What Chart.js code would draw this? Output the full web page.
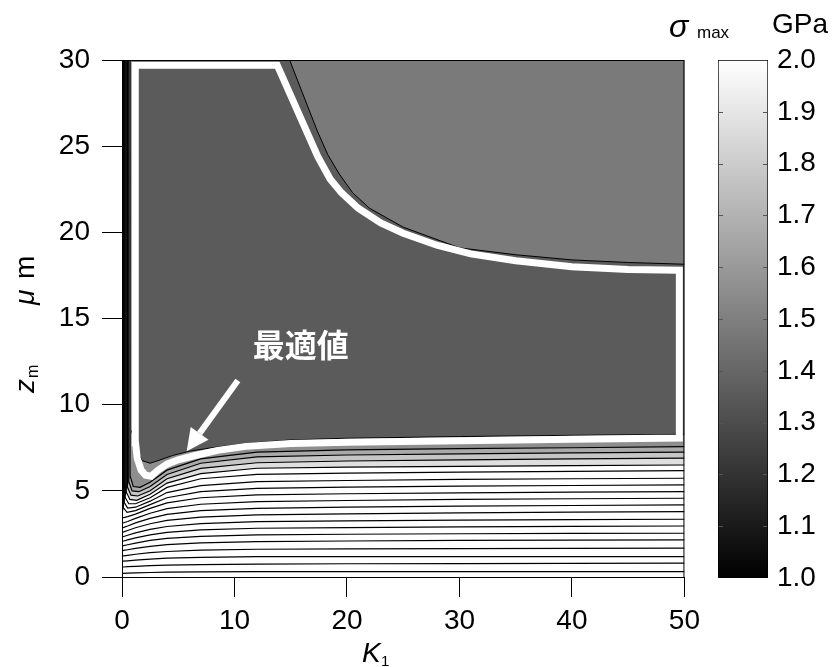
<!DOCTYPE html>
<html>
<head>
<meta charset="utf-8">
<script src="https://cdn.jsdelivr.net/npm/chart.js@4"></script>
<style>
  html, body { margin: 0; padding: 0; background: #fff; }
  #wrap { position: relative; width: 836px; height: 667px; }
  #main { position: absolute; left: 0; top: 0; }
  #bar { position: absolute; left: 640px; top: 0; }
</style>
</head>
<body>
<div id="wrap">
  <canvas id="main" width="707" height="667"></canvas>
  <canvas id="bar" width="196" height="667"></canvas>
</div>
<script>
// axis ticks
const xTicks = [0, 10, 20, 30, 40, 50];
const zTicks = [0, 5, 10, 15, 20, 25, 30];
const sigmaTicks = [1.0, 1.1, 1.2, 1.3, 1.4, 1.5, 1.6, 1.7, 1.8, 1.9, 2.0];
const sigmaRange = [1.0, 2.0];

// sigma_max contour lines, points are [K1, z_m]
const c01 = [[50,7.56],[40,7.5],[30,7.45],[20,7.38],[12,7.25],[7,6.85],[4,6.2],[2.5,5.5],[1.6,5.2],[1.0,5.25],[0.75,5.8],[0.72,7],[0.72,30]];
const c02 = [[50,7.25],[40,7.2],[30,7.15],[20,7.08],[12,6.97],[7,6.6],[4,5.95],[2.5,5.25],[1.5,4.95],[0.9,5.0],[0.62,5.5],[0.6,6.5],[0.6,30]];
const c03 = [[50,6.9],[40,6.85],[30,6.8],[20,6.73],[12,6.63],[7,6.3],[4,5.7],[2.5,5.0],[1.4,4.7],[0.8,4.75],[0.5,5.2],[0.48,6],[0.48,30]];
const c04 = [[50,6.5],[40,6.46],[30,6.42],[20,6.38],[12,6.31],[7,6.0],[4,5.45],[2.5,4.8],[1.3,4.45],[0.7,4.5],[0.4,4.9],[0.37,5.6],[0.37,30]];
const c05 = [[50,6.17],[40,6.13],[30,6.08],[20,6.03],[12,5.96],[7,5.7],[4,5.2],[2.5,4.6],[1.2,4.25],[0.6,4.25],[0.3,4.6],[0.27,5.3],[0.27,30]];
const c06 = [[50,5.73],[40,5.7],[30,5.66],[20,5.6],[12,5.53],[7,5.3],[4,4.9],[2.5,4.4],[1.2,4.05],[0.5,4.0],[0.22,4.3],[0.18,5],[0.18,30]];
const c07 = [[50,5.34],[40,5.31],[30,5.27],[20,5.21],[12,5.14],[7,4.95],[4,4.6],[2.5,4.2],[1.2,3.85],[0.45,3.75],[0.15,4.0],[0.1,4.6],[0.1,30]];
const c08 = [[50,4.95],[40,4.92],[30,4.88],[20,4.83],[12,4.76],[7,4.6],[4,4.3],[2.5,3.98],[1.2,3.65],[0.5,3.5],[0.15,3.45],[0,3.45]];
const c09 = [[50,4.57],[40,4.54],[30,4.5],[20,4.44],[12,4.37],[7,4.22],[4,3.97],[2.5,3.7],[1.2,3.4],[0.5,3.22],[0.15,3.15],[0,3.12]];
const c10 = [[50,4.18],[40,4.15],[30,4.11],[20,4.05],[12,3.98],[7,3.85],[4,3.63],[2.5,3.4],[1.2,3.14],[0.5,2.96],[0.15,2.88],[0,2.85]];
const c11 = [[50,3.79],[40,3.76],[30,3.72],[20,3.66],[12,3.6],[7,3.48],[4,3.29],[2.5,3.09],[1.2,2.86],[0.5,2.7],[0.15,2.62],[0,2.59]];
const c12 = [[50,3.35],[40,3.33],[30,3.3],[20,3.26],[12,3.21],[7,3.1],[4,2.93],[2.5,2.76],[1.2,2.56],[0.5,2.42],[0.15,2.35],[0,2.32]];
const c13 = [[50,2.96],[40,2.94],[30,2.91],[20,2.87],[12,2.83],[7,2.73],[4,2.59],[2.5,2.44],[1.2,2.27],[0.5,2.15],[0.15,2.09],[0,2.06]];
const c14 = [[50,2.54],[40,2.53],[30,2.51],[20,2.48],[12,2.44],[7,2.36],[4,2.24],[2.5,2.12],[1.2,1.97],[0.5,1.87],[0.15,1.82],[0,1.8]];
const c15 = [[50,2.15],[40,2.14],[30,2.12],[20,2.09],[12,2.05],[7,1.98],[4,1.88],[2.5,1.78],[1.2,1.66],[0.5,1.58],[0.15,1.54],[0,1.52]];
const c16 = [[50,1.67],[40,1.66],[30,1.65],[20,1.63],[12,1.61],[7,1.56],[4,1.48],[2.5,1.41],[1.2,1.32],[0.5,1.26],[0.15,1.23],[0,1.22]];
const c17 = [[50,1.18],[40,1.18],[30,1.18],[20,1.18],[12,1.18],[7,1.14],[4,1.09],[2.5,1.04],[1.2,0.98],[0.5,0.94],[0.15,0.92],[0,0.91]];
const c18 = [[50,0.8],[40,0.79],[30,0.78],[20,0.77],[12,0.75],[7,0.72],[4,0.69],[2.5,0.66],[1.2,0.62],[0.5,0.6],[0.15,0.58],[0,0.58]];
const c19 = [[50,0.31],[40,0.31],[30,0.31],[20,0.31],[12,0.31],[7,0.3],[4,0.28],[2.5,0.26],[1.2,0.24],[0.5,0.22],[0.15,0.21],[0,0.2]];
const contours = [c01, c02, c03, c04, c05, c06, c07, c08, c09, c10, c11, c12, c13, c14, c15, c16, c17, c18, c19];

// lower edge of the dark plateau, and edge of the lighter upper-right plateau
const darkEdge = [[0.85,8.5],[1.3,7.3],[1.8,6.75],[2.5,6.6],[3.2,6.75],[4.5,7.05],[6,7.3],[8,7.5],[11,7.75],[15,7.95],[20,8.05],[30,8.15],[40,8.22],[50,8.28]];
const upperEdge = [[14.9,30],[17.35,25.9],[18.3,24.5],[19.3,23.4],[20.5,22.3],[22,21.4],[25,20.3],[30,19.1],[35,18.7],[40,18.4],[45,18.25],[50,18.15]];

// narrow strips along K1 ~ 0
const strip1 = [[0,3.45],[0,30],[0.33,30],[0.33,5.5],[0.4,4.9],[0.3,4.6],[0.15,4.0]];
const strip2 = [[0.33,5.5],[0.33,30],[0.6,30],[0.6,6.5],[0.62,5.5],[0.5,5.2],[0.4,4.9]];
const strip3 = [[0.6,6.5],[0.6,30],[0.86,30],[0.86,7.5],[0.75,5.8],[0.62,5.5]];

// optimum region outline
const optimum = [[1.18,29.7],[13.8,29.7],[17.4,24.4],[18.5,23.1],[19.5,22.3],[21,21.4],[23,20.55],[25,19.95],[28,19.25],[31,18.75],[35,18.35],[40,18.0],[45,17.85],[49.55,17.8],[49.55,8.07],[40,8.0],[30,7.9],[20,7.82],[15,7.75],[11,7.58],[8.5,7.35],[6.5,7.05],[5,6.8],[4,6.55],[3.2,6.2],[2.6,5.85],[2.1,5.9],[1.7,6.2],[1.35,6.9],[1.2,7.8],[1.18,29.7],[5,29.7]];

// annotation "最適値" and its arrow, [K1, z_m]
const noteText = '最適値';
const noteAt = [15.9, 13.5];
const arrowFrom = [10.3, 11.4];
const arrowTo = [5.75, 7.3];

const FONT = "'Liberation Sans', Arial, sans-serif";
Chart.defaults.font.family = FONT;
Chart.defaults.color = '#000';

const xy = pts => pts.map(([x, y]) => ({ x, y }));
const datasets = [];
function area(pts, color, order) {
  datasets.push({ data: xy(pts), fill: 'shape', backgroundColor: color, borderColor: 'rgba(0,0,0,0)',
    borderWidth: 0, pointRadius: 0, order });
}
function line(pts, color, width, order) {
  datasets.push({ data: xy(pts), fill: false, borderColor: color, borderWidth: width, pointRadius: 0, order });
}

const bandFill = ['#8e8e8e', '#a9a9a9', '#c6c6c6', '#dfdfdf'];
[c01, c02, c03, c04].forEach((c, i) => area(c.concat([[50, 30]]), bandFill[i], 200 + i));
area([[0.85, 30]].concat(darkEdge, [[50, 30]]), '#5b5b5b', 190);
area(upperEdge.concat([[50, 30]]), '#7a7a7a', 185);
area(strip3, '#a4a4a4', 182);
area(strip2, '#5e5e5e', 182);
area(strip1, '#1e1e1e', 182);
contours.forEach(c => line(c, '#000', 1.2, 100));
line(darkEdge, '#000', 1, 99);
line(upperEdge, '#000', 1, 99);
line(optimum, '#fff', 7, 10);

const overlay = {
  id: 'overlay',
  afterDatasetsDraw(chart) {
    const { ctx, chartArea: a, scales: { x, y } } = chart;
    ctx.save();
    ctx.strokeStyle = '#000';
    ctx.lineWidth = 1;
    ctx.strokeRect(a.left + 0.5, a.top + 0.5, a.right - a.left - 1, a.bottom - a.top);

    // arrow
    const fx = x.getPixelForValue(arrowFrom[0]), fy = y.getPixelForValue(arrowFrom[1]);
    const tx = x.getPixelForValue(arrowTo[0]), ty = y.getPixelForValue(arrowTo[1]);
    const ang = Math.atan2(ty - fy, tx - fx);
    const hl = 22, hw = 11;
    const bx = tx - hl * Math.cos(ang), by = ty - hl * Math.sin(ang);
    ctx.strokeStyle = '#fff';
    ctx.fillStyle = '#fff';
    ctx.lineWidth = 6;
    ctx.beginPath();
    ctx.moveTo(fx, fy);
    ctx.lineTo(bx, by);
    ctx.stroke();
    ctx.beginPath();
    ctx.moveTo(tx, ty);
    ctx.lineTo(bx + hw * Math.sin(ang), by - hw * Math.cos(ang));
    ctx.lineTo(bx - hw * Math.sin(ang), by + hw * Math.cos(ang));
    ctx.closePath();
    ctx.fill();

    ctx.font = "bold 32px 'Noto Sans CJK JP'";
    ctx.textAlign = 'center';
    ctx.textBaseline = 'middle';
    ctx.fillText(noteText, x.getPixelForValue(noteAt[0]), y.getPixelForValue(noteAt[1]));
    ctx.restore();
  },
  afterDraw(chart) {
    const c = chart.ctx;
    c.save();
    c.fillStyle = '#000';
    c.textAlign = 'left';
    c.textBaseline = 'alphabetic';
    // K1
    c.font = 'italic 28px ' + FONT;
    c.fillText('K', 362, 662);
    c.font = '15px ' + FONT;
    c.fillText('1', 381, 666);
    // z_m  µm (rotated)
    c.translate(34, 393);
    c.rotate(-Math.PI / 2);
    c.font = 'italic 28px ' + FONT;
    c.fillText('z', 0, 0);
    c.font = '16px ' + FONT;
    c.fillText('m', 15, 4);
    c.font = 'italic 28px ' + FONT;
    c.fillText('μ', 88, 0);
    c.font = '28px ' + FONT;
    c.fillText('m', 114, 0);
    c.restore();
  }
};

new Chart(document.getElementById('main'), {
  type: 'line',
  data: { datasets },
  options: {
    responsive: false,
    animation: false,
    layout: { padding: { left: 0, right: 16, top: 60, bottom: 0 } },
    plugins: { legend: { display: false }, tooltip: { enabled: false } },
    scales: {
      x: {
        type: 'linear', min: 0, max: 50,
        afterBuildTicks: s => { s.ticks = xTicks.map(v => ({ value: v })); },
        afterFit: s => { s.height = 90; },
        grid: { drawOnChartArea: false, tickLength: 20, color: '#000' },
        border: { color: '#000' },
        ticks: { font: { size: 28 }, padding: 7, maxRotation: 0 }
      },
      y: {
        type: 'linear', min: 0, max: 30,
        afterBuildTicks: s => { s.ticks = zTicks.map(v => ({ value: v })); },
        afterFit: s => { s.width = 122; },
        grid: { drawOnChartArea: false, tickLength: 20, color: '#000' },
        border: { color: '#000' },
        ticks: { font: { size: 28 }, padding: 12 }
      }
    }
  },
  plugins: [overlay]
});

// colour bar
const barDecor = {
  id: 'barDecor',
  afterDatasetsDraw(chart) {
    const { ctx, chartArea: a, scales: { y } } = chart;
    ctx.save();
    ctx.strokeStyle = '#555';
    ctx.lineWidth = 1;
    sigmaTicks.slice(1, -1).forEach(v => {
      const py = Math.round(y.getPixelForValue(v)) + 0.5;
      ctx.beginPath();
      ctx.moveTo(a.left + 1, py); ctx.lineTo(a.left + 5, py);
      ctx.moveTo(a.right - 5, py); ctx.lineTo(a.right - 1, py);
      ctx.stroke();
    });
    ctx.fillStyle = '#000';
    ctx.textBaseline = 'alphabetic';
    ctx.font = 'italic 32px ' + FONT;
    ctx.fillText('σ', 29, 37);
    ctx.font = '17px ' + FONT;
    ctx.fillText('max', 57, 38);
    ctx.font = '28px ' + FONT;
    ctx.fillText('GPa', 132, 33);
    ctx.restore();
  }
};

new Chart(document.getElementById('bar'), {
  type: 'bar',
  data: {
    labels: [''],
    datasets: [{
      data: [sigmaRange],
      backgroundColor: c => {
        const a = c.chart.chartArea;
        if (!a) return '#888';
        const g = c.chart.ctx.createLinearGradient(0, a.bottom, 0, a.top);
        g.addColorStop(0, '#000');
        g.addColorStop(1, '#fff');
        return g;
      },
      borderColor: '#000',
      borderWidth: 1,
      borderSkipped: false,
      barPercentage: 1,
      categoryPercentage: 1
    }]
  },
  options: {
    responsive: false,
    animation: false,
    layout: { padding: { left: 78, top: 60, bottom: 89, right: 0 } },
    plugins: { legend: { display: false }, tooltip: { enabled: false } },
    scales: {
      x: { display: false },
      y: {
        position: 'right', min: 1, max: 2,
        afterBuildTicks: s => { s.ticks = sigmaTicks.map(v => ({ value: v })); },
        afterFit: s => { s.width = 68; },
        grid: { display: false, drawTicks: false },
        border: { display: false },
        ticks: { font: { size: 28 }, padding: 9, callback: v => Number(v).toFixed(1) }
      }
    }
  },
  plugins: [barDecor]
});
</script>
</body>
</html>
